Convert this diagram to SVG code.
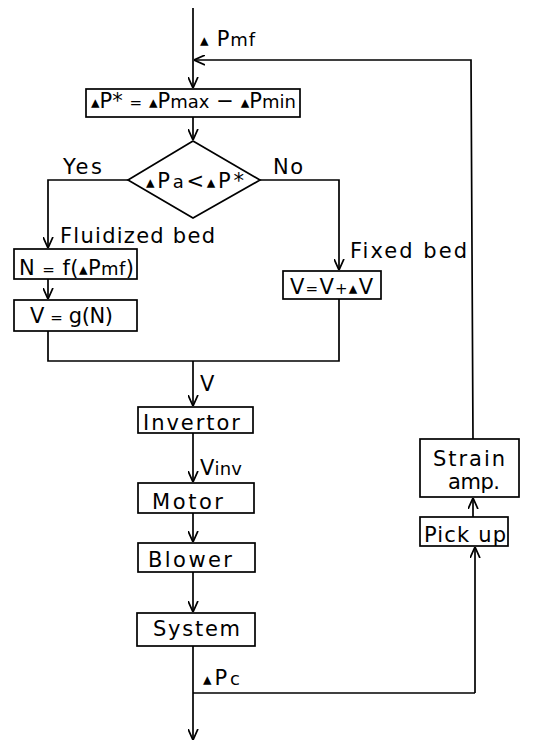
<svg xmlns="http://www.w3.org/2000/svg" width="538" height="742" viewBox="0 0 538 742">
<style>
.bg{fill:#fff}
.box{fill:#fff;stroke:#000;stroke-width:1.7}
.ln{fill:none;stroke:#000;stroke-width:1.7}
.t{font-family:"DejaVu Sans","Liberation Sans",sans-serif;fill:#000;font-size:21px}
.s{font-size:18px}
.d{font-size:17px}
.e{font-size:15px}
</style>
<defs>
<marker id="ah" viewBox="0 0 10 10" refX="10" refY="5" markerWidth="11" markerHeight="11" markerUnits="userSpaceOnUse" orient="auto">
<path d="M0,0.5 L10,5 L0,9.5" fill="none" stroke="#000" stroke-width="1.6"/>
</marker>
</defs>
<rect class="bg" x="0" y="0" width="538" height="742"/>
<g id="connectors">
<path class="ln" d="M193,8 L193,88" marker-end="url(#ah)"/>
<path class="ln" d="M475,693 L475,547" marker-end="url(#ah)"/>
<path class="ln" d="M473,517 L473,498" marker-end="url(#ah)"/>
<path class="ln" d="M473,439 L471,60 L194,60" marker-end="url(#ah)"/>
<path class="ln" d="M193,117 L193,140" marker-end="url(#ah)"/>
<path class="ln" d="M128,180 L48,180 L48,248" marker-end="url(#ah)"/>
<path class="ln" d="M260,180 L339,180 L339,270" marker-end="url(#ah)"/>
<path class="ln" d="M48,279 L48,299" marker-end="url(#ah)"/>
<path class="ln" d="M48,331 L48,361 L339,361 L339,299"/>
<path class="ln" d="M193,361 L193,406" marker-end="url(#ah)"/>
<path class="ln" d="M193,433 L193,482" marker-end="url(#ah)"/>
<path class="ln" d="M193,513 L193,542" marker-end="url(#ah)"/>
<path class="ln" d="M193,572 L193,612" marker-end="url(#ah)"/>
<path class="ln" d="M193,646 L193,740" marker-end="url(#ah)"/>
<path class="ln" d="M193,693 L475,693"/>
<text class="t" x="200" y="46" textLength="55"><tspan class="d">▴</tspan> P<tspan class="s">mf</tspan></text>
<text class="t" x="63" y="174" textLength="39">Yes</text>
<text class="t" x="273" y="174" textLength="30">No</text>
<text class="t" x="60" y="243" textLength="155">Fluidized bed</text>
<text class="t" x="350" y="258" textLength="117">Fixed bed</text>
<text class="t" x="200" y="391" textLength="11">V</text>
<text class="t" x="200" y="475" textLength="42">V<tspan class="s">inv</tspan></text>
<text class="t" x="203" y="685" textLength="37"><tspan class="d">▴</tspan>P<tspan class="s">c</tspan></text>
</g>
<g id="n-pstar">
<rect class="box" x="86" y="89" width="214" height="28"/>
<text class="t" x="91" y="108" textLength="205"><tspan class="d">▴</tspan>P* <tspan class="e">=</tspan> <tspan class="d">▴</tspan>P<tspan class="s">max</tspan> − <tspan class="d">▴</tspan>P<tspan class="s">min</tspan></text>
</g>
<g id="n-decision">
<polygon class="box" points="193,141 260,180 193,218 128,180"/>
<text class="t" x="146" y="188" textLength="98"><tspan class="d">▴</tspan>P<tspan class="s">a</tspan>&lt;<tspan class="d">▴</tspan>P*</text>
</g>
<g id="n-nf">
<rect class="box" x="14" y="249" width="123" height="30"/>
<text class="t" x="19" y="275" textLength="115">N <tspan class="e">=</tspan> f(<tspan class="d">▴</tspan>P<tspan class="s">mf</tspan>)</text>
</g>
<g id="n-vg">
<rect class="box" x="14" y="300" width="123" height="31"/>
<text class="t" x="30" y="323" textLength="83">V <tspan class="e">=</tspan> g(N)</text>
</g>
<g id="n-vdv">
<rect class="box" x="283" y="271" width="98" height="28"/>
<text class="t" x="290" y="294" textLength="83">V<tspan class="e">=</tspan>V<tspan class="e">+</tspan><tspan class="d">▴</tspan>V</text>
</g>
<g id="n-invertor">
<rect class="box" x="138" y="407" width="115" height="26"/>
<text class="t" x="143" y="430" textLength="97">Invertor</text>
</g>
<g id="n-motor">
<rect class="box" x="138" y="483" width="116" height="30"/>
<text class="t" x="152" y="509" textLength="71">Motor</text>
</g>
<g id="n-blower">
<rect class="box" x="138" y="543" width="117" height="29"/>
<text class="t" x="148" y="567" textLength="84">Blower</text>
</g>
<g id="n-system">
<rect class="box" x="137" y="613" width="118" height="33"/>
<text class="t" x="153" y="636" textLength="87">System</text>
</g>
<g id="n-strain">
<rect class="box" x="420" y="439" width="99" height="58"/>
<text class="t" x="433" y="466" textLength="72">Strain</text>
<text class="t" x="448" y="489" textLength="52">amp.</text>
</g>
<g id="n-pickup">
<rect class="box" x="420" y="517" width="88" height="29"/>
<text class="t" x="424" y="542" textLength="82">Pick up</text>
</g>
</svg>
